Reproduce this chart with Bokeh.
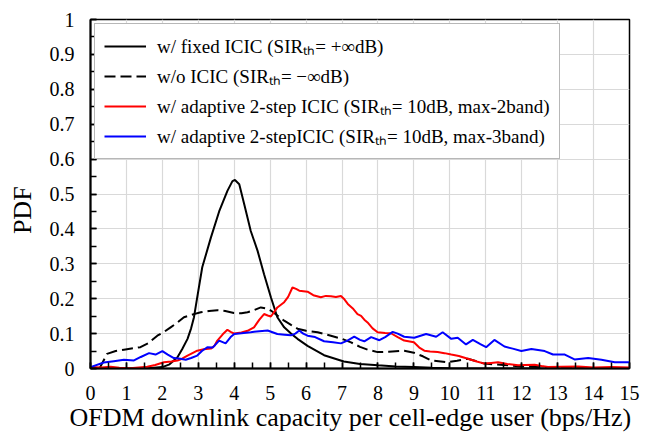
from bokeh.plotting import figure
from bokeh.models import Legend, LegendItem, FixedTicker, Range1d
from bokeh.embed import file_html
from bokeh.resources import INLINE

# ---- data ----
fixed_x = [0, 1.0, 1.6, 2.0, 2.2, 2.42, 2.55, 2.7, 2.8, 2.88, 2.97, 3.11, 3.35, 3.58, 3.81, 3.95, 4.02,
           4.14, 4.28, 4.46, 4.65, 4.83, 5.02, 5.2, 5.39, 5.58, 5.76, 6.04, 6.5, 7.05, 7.5, 8.0, 8.5,
           9.0, 9.5, 10, 11, 12, 13, 14, 15]
fixed_y = [0, 0, 0.001, 0.004, 0.012, 0.032, 0.055, 0.085, 0.115, 0.147, 0.204, 0.29, 0.375, 0.45,
           0.509, 0.537, 0.54, 0.528, 0.47, 0.394, 0.337, 0.27, 0.204, 0.147, 0.118, 0.1, 0.085,
           0.065, 0.038, 0.02, 0.013, 0.009, 0.006, 0.004, 0.002, 0.001, 0, 0, 0, 0, 0]

noicic_x = [0.25, 0.46, 0.7, 0.93, 1.2, 1.39, 1.6, 1.86, 2.05, 2.23, 2.4, 2.6, 2.85, 3.07, 3.3, 3.53,
            3.75, 3.99, 4.2, 4.37, 4.55, 4.74, 4.9, 5.02, 5.2, 5.39, 5.58, 5.76, 6.0, 6.32, 6.69,
            7.0, 7.25, 7.5, 7.71, 7.99, 8.3, 8.73, 9.0, 9.25, 9.48, 9.94, 10.2, 10.5, 10.96, 11.5,
            12.0, 12.5, 13, 14, 15]
noicic_y = [0.0, 0.042, 0.05, 0.054, 0.058, 0.061, 0.072, 0.094, 0.105, 0.118, 0.13, 0.147, 0.155,
            0.161, 0.165, 0.167, 0.165, 0.159, 0.158, 0.161, 0.167, 0.175, 0.172, 0.166, 0.152,
            0.137, 0.125, 0.114, 0.108, 0.104, 0.094, 0.085, 0.075, 0.062, 0.054, 0.047, 0.048,
            0.051, 0.045, 0.035, 0.023, 0.018, 0.022, 0.028, 0.014, 0.01, 0.006, 0.004, 0.002,
            0.001, 0]

band2_x = [0, 0.3, 0.56, 0.8, 1.1, 1.58, 1.8, 2.04, 2.25, 2.42, 2.55, 2.7, 2.85, 2.97, 3.15, 3.35,
           3.45, 3.53, 3.68, 3.81, 3.9, 4.0, 4.2, 4.37, 4.55, 4.7, 4.83, 4.93, 5.02, 5.1, 5.2, 5.39,
           5.5, 5.62, 5.72, 5.81, 6.04, 6.2, 6.41, 6.55, 6.69, 6.83, 6.97, 7.05, 7.16, 7.3, 7.43,
           7.53, 7.62, 7.71, 7.85, 7.99, 8.2, 8.36, 8.55, 8.73, 9.0, 9.15, 9.29, 9.45, 9.66, 9.85,
           10.04, 10.25, 10.5, 10.75, 10.96, 11.15, 11.34, 11.6, 11.9, 12.1, 12.36, 12.55, 12.73,
           13.1, 13.57, 14.0, 14.5, 15]
band2_y = [0.004, 0.003, 0.005, 0.002, 0.001, 0.005, 0.01, 0.018, 0.02, 0.023, 0.028, 0.037, 0.045,
           0.051, 0.055, 0.057, 0.065, 0.08, 0.098, 0.111, 0.105, 0.1, 0.103, 0.108, 0.118, 0.14,
           0.156, 0.152, 0.149, 0.16, 0.175, 0.19, 0.205, 0.232, 0.228, 0.223, 0.22, 0.21, 0.204,
           0.208, 0.207, 0.205, 0.208, 0.2, 0.185, 0.172, 0.156, 0.151, 0.14, 0.132, 0.115, 0.104,
           0.102, 0.101, 0.09, 0.08, 0.075, 0.06, 0.051, 0.049, 0.047, 0.044, 0.04, 0.036, 0.028,
           0.02, 0.014, 0.016, 0.018, 0.013, 0.009, 0.01, 0.011, 0.007, 0.004, 0.005, 0.006, 0.003,
           0.004, 0.003]

band3_x = [0, 0.37, 0.65, 0.93, 1.21, 1.4, 1.63, 1.81, 2.0, 2.15, 2.32, 2.5, 2.65, 2.8, 2.97, 3.1,
           3.25, 3.4, 3.58, 3.76, 3.9, 4.0, 4.2, 4.46, 4.7, 4.93, 5.2, 5.4, 5.58, 5.7, 5.81, 5.92,
           6.04, 6.25, 6.5, 6.75, 6.97, 7.15, 7.34, 7.5, 7.62, 7.81, 8.04, 8.2, 8.41, 8.55, 8.73,
           9.01, 9.34, 9.62, 9.8, 10.04, 10.22, 10.45, 10.64, 10.85, 11.01, 11.24, 11.52, 11.75,
           11.99, 12.27, 12.64, 12.87, 13.2, 13.47, 13.85, 14.22, 14.59, 15]
band3_y = [0.004, 0.017, 0.021, 0.025, 0.023, 0.033, 0.044, 0.04, 0.05, 0.04, 0.03, 0.028, 0.025,
           0.03, 0.037, 0.05, 0.061, 0.06, 0.08, 0.072, 0.09, 0.099, 0.101, 0.104, 0.107, 0.109,
           0.099, 0.097, 0.095, 0.1, 0.109, 0.1, 0.094, 0.09, 0.078, 0.075, 0.072, 0.08, 0.091,
           0.082, 0.078, 0.09, 0.081, 0.09, 0.105, 0.1, 0.091, 0.088, 0.099, 0.091, 0.104, 0.085,
           0.088, 0.069, 0.082, 0.07, 0.061, 0.082, 0.063, 0.057, 0.05, 0.056, 0.05, 0.04, 0.04,
           0.026, 0.03, 0.025, 0.018, 0.018]

series_labels = [
    "w/ fixed ICIC (SIR\u209c\u2095= +\u221edB)",
    "w/o ICIC (SIR\u209c\u2095= \u2212\u221edB)",
    "w/ adaptive 2-step ICIC (SIR\u209c\u2095= 10dB, max-2band)",
    "w/ adaptive 2-stepICIC (SIR\u209c\u2095= 10dB, max-3band)",
]

x_ticks = list(range(0, 16))
x_minor = [i * 0.5 for i in range(0, 31)]
y_ticks = [0, 0.1, 0.2, 0.3, 0.4, 0.5, 0.6, 0.7, 0.8, 0.9, 1.0]
y_tick_labels = ["0", "0.1", "0.2", "0.3", "0.4", "0.5", "0.6", "0.7", "0.8", "0.9", "1"]
y_minor = [i * 0.05 for i in range(0, 21)]

x_title = "OFDM downlink capacity per cell-edge user (bps/Hz)"
y_title = "PDF"

FONT = "Liberation Serif"
NB = "\u00a0"

p = figure(width=651, height=435, output_backend="svg", toolbar_location=None,
           x_range=Range1d(0, 15), y_range=Range1d(0, 1),
           min_border_left=90, min_border_right=22, min_border_top=19, min_border_bottom=67)
p.background_fill_color = "white"
p.border_fill_color = "white"
p.outline_line_color = "black"
p.outline_line_width = 1.5

r1 = p.line(fixed_x, fixed_y, line_color="black", line_width=2)
r2 = p.line(noicic_x, noicic_y, line_color="black", line_width=2, line_dash="11 5")
r3 = p.line(band2_x, band2_y, line_color="#ff0000", line_width=2)
r4 = p.line(band3_x, band3_y, line_color="#0000ff", line_width=2)

p.xaxis.ticker = FixedTicker(ticks=x_ticks, minor_ticks=x_minor)
p.yaxis.ticker = FixedTicker(ticks=y_ticks, minor_ticks=y_minor)
p.yaxis.major_label_overrides = {t: s for t, s in zip(y_ticks, y_tick_labels)}
p.xaxis.major_label_overrides = {t: str(t) for t in x_ticks}

for ax in (p.xaxis[0], p.yaxis[0]):
    ax.axis_line_color = "black"
    ax.axis_line_width = 2
    ax.major_tick_in = 6
    ax.major_tick_out = 0
    ax.minor_tick_in = 6
    ax.minor_tick_out = 0
    ax.major_tick_line_color = "black"
    ax.minor_tick_line_color = "black"
    ax.major_tick_line_width = 1.5
    ax.minor_tick_line_width = 1.5
    ax.major_label_text_font = FONT
    ax.major_label_text_font_size = "20px"
    ax.major_label_text_color = "black"
    ax.axis_label_text_font = FONT
    ax.axis_label_text_font_size = "26px"
    ax.axis_label_text_font_style = "normal"
    ax.axis_label_text_color = "black"

# trailing no-break spaces nudge the titles to where the reference has them
p.xaxis.axis_label = x_title + NB * 3
p.yaxis.axis_label = y_title + NB * 5
p.xaxis.major_label_standoff = 17
p.yaxis.major_label_standoff = 16
p.xaxis.axis_label_standoff = 0
p.yaxis.axis_label_standoff = 10

p.xgrid.grid_line_color = "#d9d9d9"
p.ygrid.grid_line_color = "#d9d9d9"
p.xgrid.grid_line_width = 1.2
p.ygrid.grid_line_width = 1.2

legend = Legend(items=[LegendItem(label=series_labels[0], renderers=[r1]),
                       LegendItem(label=series_labels[1], renderers=[r2]),
                       LegendItem(label=series_labels[2], renderers=[r3]),
                       LegendItem(label=series_labels[3], renderers=[r4])],
                location="top_left")
legend.margin = 4
legend.padding = 9
legend.spacing = 4
legend.glyph_width = 42
legend.glyph_height = 20
legend.label_height = 20
legend.label_standoff = 11
legend.label_text_font = FONT
legend.label_text_font_size = "19px"
legend.label_text_color = "black"
legend.border_line_color = "#707070"
legend.border_line_width = 1.5
legend.background_fill_color = "white"
legend.background_fill_alpha = 1.0
p.add_layout(legend, "center")

open("out.html", "w").write(file_html(p, INLINE))
